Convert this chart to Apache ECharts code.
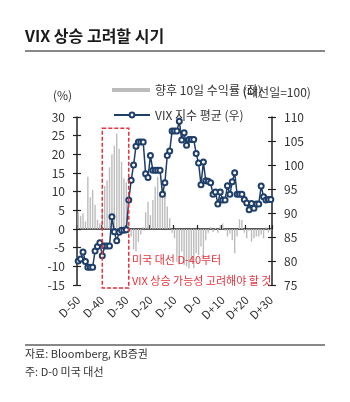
<!DOCTYPE html>
<html>
<head>
<meta charset="utf-8">
<script src="https://cdn.jsdelivr.net/npm/echarts@6/dist/echarts.min.js"></script>
<style>
  html, body { margin: 0; padding: 0; background: #fff; }
  #chart { width: 350px; height: 402px; }
</style>
</head>
<body>
<div id="chart"></div>
<script>
// Days relative to the US election (D-0)
const dayOffsets = [];
for (let d = -50; d <= 30; d++) dayOffsets.push(d);
const categories = dayOffsets.map(d => d === 0 ? 'D-0' : (d < 0 ? 'D' + d : 'D+' + d));

// Forward 10-day return (%), left axis
const forwardReturn = [
  4.5, 3.5, 4.2, 2.0, 14, 8.5, 10.5, 6.5, 2.5, 1.5,
  5.5, 11.5, 13, 16.5, 20, 22.3, 25.5, 21.5, 18, 13.5,
  12.5, 1, -2, -5.5, -6, -3.5, -1.5, 0.5, 4.5, 7.3,
  3.7, 7.8, 11.3, 14, 9, 11.3, 10.4, 6, 2.9, -1,
  -2.5, -8.8, -9.5, -6, -9.6, -10, -10.5, -8.8, -10.5, -6.5,
  -7, -4.7, -7.9, -3, -1, 0.5, -0.8, 0.3, -1, 1.0,
  1.5, -0.5, -2, -1.2, -3, -6.5, -2, 2.6, 2.4, -1,
  -2.5, -0.5, -3.4, -2.5, -2, -2, -1.5, -2.5, 0.5, -1, -0.5
];

// Average VIX index (election day = 100), right axis
const vixAverage = [
  80.0, 80.4, 81.9, 79.9, 78.7, 78.7, 78.7, 82.1, 83.0, 83.8,
  81.1, 83.1, 83.1, 83.1, 89.2, 86.1, 84.2, 86.0, 86.4, 86.4,
  86.5, 92.7, 96.8, 100, 103.9, 104.8, 104.8, 104.8, 98.2, 97.4,
  102, 98.9, 98.9, 98.9, 98.9, 93.9, 96.3, 102, 102.9, 107.1,
  107.1, 107.1, 109.1, 105.2, 106.7, 104.1, 105.3, 105.3, 105.3, 102.4,
  100.4, 95.9, 100.6, 96.7, 96.6, 96.3, 93.9, 94.4, 91.9, 94.4,
  92.7, 92.7, 95.7, 93.9, 96.5, 98.4, 93.9, 93.9, 93.9, 92.8,
  92.1, 90.7, 92, 91, 91.9, 91.9, 95.6, 93.4, 92.7, 92.8, 92.8
];

// Highlighted window
const boxStart = 'D-40';
const boxEnd = 'D-29';
const boxTop = 27;
const boxBottom = -15.8;

const FONT = '"Noto Sans CJK KR", "Noto Sans", sans-serif';
const AXIS = '#222';
const NAVY = '#1f3f6b';
const RED = '#e8323c';

const leftAxisBase = { type: 'value', position: 'left', min: -15, max: 30, interval: 5, splitLine: { show: false } };
const rightAxisBase = { type: 'value', position: 'right', min: 75, max: 110, interval: 5, splitLine: { show: false } };

const option = {
  animation: false,
  textStyle: { fontFamily: FONT },
  grid: { left: 77, right: 78, top: 117, bottom: 117 },
  legend: [
    {
      data: ['향후 10일 수익률 (좌)'], left: 107, top: 79, icon: 'rect',
      itemWidth: 38, itemHeight: 4, itemGap: 0,
      textStyle: { fontSize: 12, color: '#333', fontFamily: FONT }
    },
    {
      data: ['VIX 지수 평균 (우)'], left: 108, top: 104,
      itemWidth: 36, itemHeight: 6, itemGap: 0,
      textStyle: { fontSize: 12, color: '#333', fontFamily: FONT }
    }
  ],
  xAxis: [
    {
      type: 'category', data: categories, position: 'bottom',
      axisLine: { onZero: true, onZeroAxisIndex: 0, lineStyle: { color: AXIS, width: 1.5 } },
      axisTick: { show: true, inside: true, interval: 9, length: 4, lineStyle: { color: AXIS, width: 1.2 } },
      axisLabel: { show: false }
    },
    {
      type: 'category', data: categories, position: 'bottom',
      axisLine: { show: false, onZero: false },
      axisTick: { show: false },
      axisLabel: { show: true, interval: 9, rotate: 45, margin: 13, fontSize: 11.5, color: '#333', fontFamily: FONT }
    }
  ],
  yAxis: [
    Object.assign({}, leftAxisBase, {
      axisLine: { show: true, onZero: false, lineStyle: { color: AXIS, width: 1.5 } },
      axisTick: { show: true, length: 4, lineStyle: { color: AXIS, width: 1.2 } },
      axisLabel: { fontSize: 12, color: '#333', margin: 12, fontFamily: FONT }
    }),
    Object.assign({}, leftAxisBase, {
      axisLine: { show: false, onZero: false },
      axisTick: { show: true, inside: true, length: 4, lineStyle: { color: AXIS, width: 1.2 } },
      axisLabel: { show: false }
    }),
    Object.assign({}, rightAxisBase, {
      axisLine: { show: true, onZero: false, lineStyle: { color: AXIS, width: 1.5 } },
      axisTick: { show: true, length: 4, lineStyle: { color: AXIS, width: 1.2 } },
      axisLabel: { fontSize: 12, color: '#333', margin: 12, fontFamily: FONT }
    }),
    Object.assign({}, rightAxisBase, {
      axisLine: { show: false, onZero: false },
      axisTick: { show: true, inside: true, length: 4, lineStyle: { color: AXIS, width: 1.2 } },
      axisLabel: { show: false }
    })
  ],
  series: [
    {
      name: '향후 10일 수익률 (좌)', type: 'bar', data: forwardReturn,
      xAxisIndex: 0, yAxisIndex: 0, barWidth: '58%',
      itemStyle: { color: '#bcbcbc' }
    },
    {
      name: 'VIX 지수 평균 (우)', type: 'line', data: vixAverage,
      xAxisIndex: 0, yAxisIndex: 2,
      symbol: 'emptyCircle', symbolSize: 5, showAllSymbol: true,
      lineStyle: { color: NAVY, width: 1.5 },
      itemStyle: { color: NAVY, borderWidth: 1.2 },
      z: 3
    }
  ]
};

const chart = echarts.init(document.getElementById('chart'), null, { renderer: 'canvas' });
chart.setOption(option);

// Dashed window and the page furniture around the plot
const pA = chart.convertToPixel({ xAxisIndex: 0, yAxisIndex: 0 }, [boxStart, boxTop]);
const pB = chart.convertToPixel({ xAxisIndex: 0, yAxisIndex: 0 }, [boxEnd, boxBottom]);

chart.setOption({
  graphic: [
    { type: 'text', left: 25, top: 28, style: { text: 'VIX 상승 고려할 시기', font: 'bold 16px ' + FONT, fill: '#1a1a1a' } },
    { type: 'line', shape: { x1: 25, y1: 51, x2: 325, y2: 51 }, style: { stroke: '#111', lineWidth: 1 } },
    { type: 'text', left: 53, top: 89, style: { text: '(%)', font: '12px ' + FONT, fill: '#333' } },
    { type: 'text', left: 243, top: 86, style: { text: '(대선일=100)', font: '12px ' + FONT, fill: '#333' } },
    {
      type: 'rect', z: 100,
      shape: { x: pA[0], y: pA[1], width: pB[0] - pA[0], height: pB[1] - pA[1] },
      style: { fill: 'none', stroke: RED, lineWidth: 1.5, lineDash: [4, 2] }
    },
    { type: 'text', left: 132, top: 254, z: 100, style: { text: '미국 대선 D-40부터', font: '11px ' + FONT, fill: RED } },
    { type: 'text', left: 132, top: 275, z: 100, style: { text: 'VIX 상승 가능성 고려해야 할 것', font: '11px ' + FONT, fill: RED } },
    { type: 'line', shape: { x1: 25, y1: 345, x2: 325, y2: 345 }, style: { stroke: '#111', lineWidth: 1 } },
    { type: 'text', left: 25, top: 348, style: { text: '자료: Bloomberg, KB증권', font: '11px ' + FONT, fill: '#333' } },
    { type: 'text', left: 25, top: 366, style: { text: '주: D-0 미국 대선', font: '11px ' + FONT, fill: '#333' } }
  ]
});
</script>
</body>
</html>
